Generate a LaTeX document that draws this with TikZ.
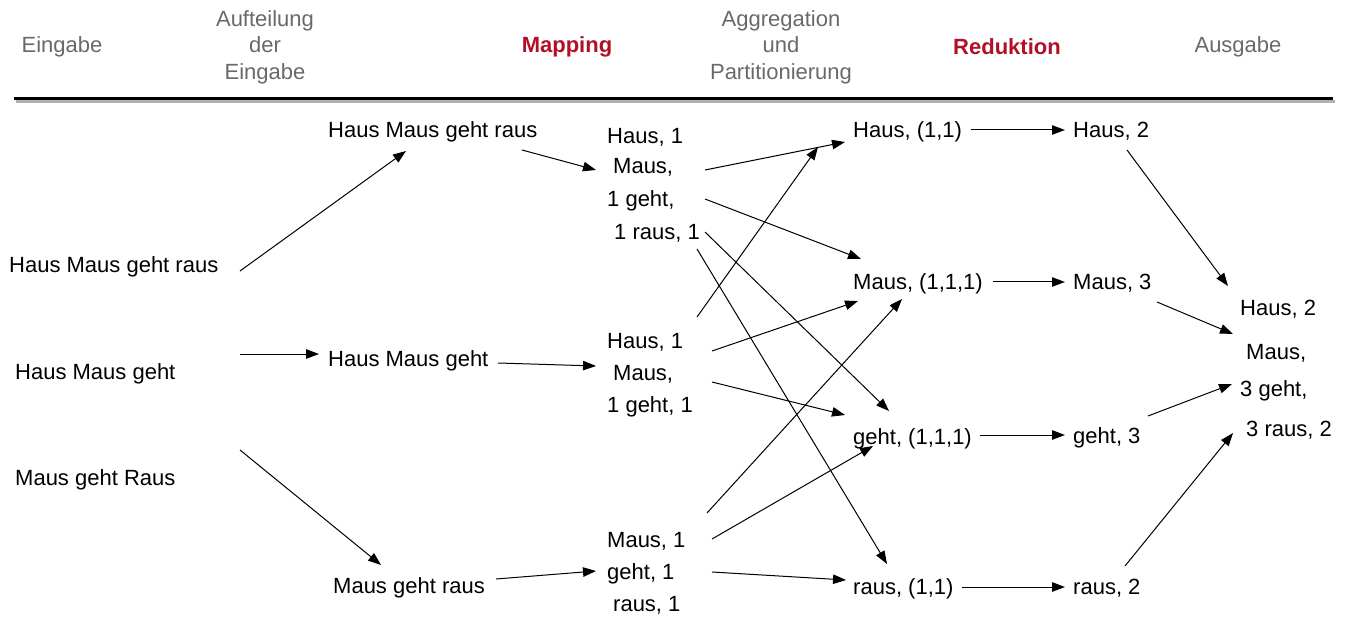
\documentclass[tikz,border=0pt]{standalone}
\usepackage{fontspec}
\setmainfont{Liberation Sans}
\usetikzlibrary{arrows.meta}
\definecolor{hdrgray}{RGB}{105,105,105}
\definecolor{hdrred}{RGB}{176,16,40}
\tikzset{
  txt/.style={inner sep=0pt, anchor=base west, font=\fontsize{22}{26}\selectfont},
  hdr/.style={inner sep=0pt, anchor=center, align=center, text=hdrgray, font=\fontsize{22}{26.5}\selectfont},
  hdrbold/.style={hdr, text=hdrred, font=\fontsize{22}{26.5}\selectfont\bfseries},
  arr/.style={line width=1pt, -{Triangle[length=13pt,width=9.5pt]}}
}
\begin{document}
\begin{tikzpicture}[x=1pt,y=-1pt]
\useasboundingbox (0,0) rectangle (1348,617);
% header
\node[hdr] (hEin) at (62,47) {Eingabe};
\node[hdr] (hAuf) at (265,47) {Aufteilung\\der\\Eingabe};
\node[hdrbold] (hMap) at (567,47) {Mapping};
\node[hdr] (hAgg) at (781,47) {Aggregation\\und\\Partitionierung};
\node[hdrbold] (hRed) at (1007,47) {Reduktion};
\node[hdr] (hAus) at (1238,47) {Ausgabe};
\coordinate (ruleL) at (14,99);
\coordinate (ruleR) at (1333,99);
\draw[line width=3pt, black!30] ([shift={(2,3)}]ruleL) -- ([shift={(2,3)}]ruleR);
\draw[line width=3pt] (ruleL) -- (ruleR);
% input
\node[txt] (in1) at (9,273) {Haus Maus geht raus};
\node[txt] (in2) at (15,379) {Haus Maus geht};
\node[txt] (in3) at (15,485) {Maus geht Raus};
% split
\node[txt] (sp1) at (328,138) {Haus Maus geht raus};
\node[txt] (sp2) at (328,366) {Haus Maus geht};
\node[txt] (sp3) at (333,593) {Maus geht raus};
% mapping
\node[txt] (m1a) at (607,144) {Haus, 1};
\node[txt] (m1b) at (613,174) {Maus,};
\node[txt] (m1c) at (607,207) {1 geht,};
\node[txt] (m1d) at (614,240) {1 raus, 1};
\node[txt] (m2a) at (607,348) {Haus, 1};
\node[txt] (m2b) at (613,380) {Maus,};
\node[txt] (m2c) at (607,412) {1 geht, 1};
\node[txt] (m3a) at (607,547) {Maus, 1};
\node[txt] (m3b) at (607,579) {geht, 1};
\node[txt] (m3c) at (613,611) {raus, 1};
% aggregation
\node[txt] (a1) at (853,138) {Haus, (1,1)};
\node[txt] (a2) at (853,290) {Maus, (1,1,1)};
\node[txt] (a3) at (853,444) {geht, (1,1,1)};
\node[txt] (a4) at (853,594) {raus, (1,1)};
% reduction
\node[txt] (r1) at (1073,138) {Haus, 2};
\node[txt] (r2) at (1073,290) {Maus, 3};
\node[txt] (r3) at (1073,443) {geht, 3};
\node[txt] (r4) at (1073,594) {raus, 2};
% output
\node[txt] (o1) at (1240,316) {Haus, 2};
\node[txt] (o2) at (1246,359) {Maus,};
\node[txt] (o3) at (1240,396) {3 geht,};
\node[txt] (o4) at (1246,436) {3 raus, 2};
% connector end points
\coordinate (in1o) at (240,271); \coordinate (sp1i) at (406,151);
\coordinate (in2o) at (240,354); \coordinate (sp2i) at (319,354);
\coordinate (in3o) at (240,450); \coordinate (sp3i) at (381,565);
\coordinate (sp1o) at (522,150); \coordinate (m1i) at (596,170);
\coordinate (sp2o) at (498,363); \coordinate (m2i) at (596,366);
\coordinate (sp3o) at (496,579); \coordinate (m3i) at (596,571);
\coordinate (m1oA) at (705,170); \coordinate (m1oB) at (705,199);
\coordinate (m1oC) at (705,232); \coordinate (m1oD) at (697,249);
\coordinate (m2oA) at (697,317); \coordinate (m2oB) at (712,351);
\coordinate (m2oC) at (712,382);
\coordinate (m3oA) at (707,513); \coordinate (m3oB) at (712,539);
\coordinate (m3oC) at (712,572);
\coordinate (a1iA) at (845,142); \coordinate (a1iB) at (818,147);
\coordinate (a2iA) at (861,259); \coordinate (a2iB) at (858,301); \coordinate (a2iC) at (902,299);
\coordinate (a3iA) at (889,411); \coordinate (a3iB) at (845,415); \coordinate (a3iC) at (873,446);
\coordinate (a4iA) at (887,564); \coordinate (a4iB) at (846,580);
\coordinate (a1o) at (971,130); \coordinate (r1i) at (1065,130);
\coordinate (a2o) at (993,282); \coordinate (r2i) at (1065,282);
\coordinate (a3o) at (980,435); \coordinate (r3i) at (1065,435);
\coordinate (a4o) at (962,587); \coordinate (r4i) at (1065,587);
\coordinate (r1o) at (1127,150); \coordinate (o1i) at (1228,286);
\coordinate (r2o) at (1157,302); \coordinate (o2i) at (1233,334);
\coordinate (r3o) at (1148,416); \coordinate (o3i) at (1232,384);
\coordinate (r4o) at (1125,566); \coordinate (o4i) at (1233,433);
% connectors
\draw[arr] (in1o) -- (sp1i);
\draw[arr] (in2o) -- (sp2i);
\draw[arr] (in3o) -- (sp3i);
\draw[arr] (sp1o) -- (m1i);
\draw[arr] (sp2o) -- (m2i);
\draw[arr] (sp3o) -- (m3i);
\draw[arr] (m1oA) -- (a1iA);
\draw[arr] (m1oB) -- (a2iA);
\draw[arr] (m1oC) -- (a3iA);
\draw[arr] (m1oD) -- (a4iA);
\draw[arr] (m2oA) -- (a1iB);
\draw[arr] (m2oB) -- (a2iB);
\draw[arr] (m2oC) -- (a3iB);
\draw[arr] (m3oA) -- (a2iC);
\draw[arr] (m3oB) -- (a3iC);
\draw[arr] (m3oC) -- (a4iB);
\draw[arr] (a1o) -- (r1i);
\draw[arr] (a2o) -- (r2i);
\draw[arr] (a3o) -- (r3i);
\draw[arr] (a4o) -- (r4i);
\draw[arr] (r1o) -- (o1i);
\draw[arr] (r2o) -- (o2i);
\draw[arr] (r3o) -- (o3i);
\draw[arr] (r4o) -- (o4i);
\end{tikzpicture}
\end{document}
